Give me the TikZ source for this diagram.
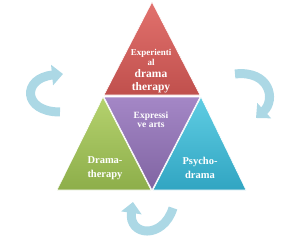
\documentclass[tikz,border=0pt]{standalone}
\usepackage{fontspec}
\setmainfont{Liberation Serif}
\usetikzlibrary{arrows.meta}
\definecolor{redA}{HTML}{E2716D}
\definecolor{redB}{HTML}{C0504D}
\definecolor{purA}{HTML}{A487C6}
\definecolor{purB}{HTML}{8064A2}
\definecolor{grnA}{HTML}{B5D26E}
\definecolor{grnB}{HTML}{8DAE4A}
\definecolor{cyaA}{HTML}{5FCDE3}
\definecolor{cyaB}{HTML}{31A5C2}
\definecolor{arrB}{HTML}{ACD8E5}
\tikzset{
  tri/.style={draw=white, line width=0.6pt},
  lbl/.style={text=white, font=\bfseries, align=center, inner sep=0pt},
  carrow/.style={draw=arrB, line width=9pt, -{Triangle[width=20pt,length=11pt]}},
}
\begin{document}
\begin{tikzpicture}[x=1pt,y=-1pt]
\useasboundingbox (0,0) rectangle (300,241);
% triangles
\shade[tri, top color=redA, bottom color=redB] (152,2) -- (200,95) -- (104,95) -- cycle;
\shade[tri, top color=purA, bottom color=purB] (104,97) -- (200,97) -- (152,190) -- cycle;
\shade[tri, top color=grnA, bottom color=grnB] (103,97) -- (151,190) -- (57,190) -- cycle;
\shade[tri, top color=cyaA, bottom color=cyaB] (201,97) -- (246,190) -- (153,190) -- cycle;
% labels
\node[lbl, font=\bfseries\fontsize{9}{9.5}\selectfont] (top1) at (151,57.5) {Experienti\\al};
\node[lbl, font=\bfseries\fontsize{11.5}{13.5}\selectfont] (top2) at (151,81.5) {drama\\therapy};
\node[lbl, font=\bfseries\fontsize{9.5}{9.5}\selectfont] (mid) at (151,119.5) {Expressi\\ve arts};
\node[lbl, font=\bfseries\fontsize{10.5}{14}\selectfont] (left) at (105,168) {Drama-\\therapy};
\node[lbl, font=\bfseries\fontsize{10.5}{14}\selectfont] (right) at (200,168) {Psycho-\\drama};
% curved arrows
\draw[carrow] (60,112) .. controls (22,112) and (22,78) .. (63,74);
\draw[carrow] (235,74) .. controls (270,70) and (276,100) .. (256,118);
\draw[carrow] (173,208) .. controls (163,240) and (128,236) .. (133,202);
\end{tikzpicture}
\end{document}
